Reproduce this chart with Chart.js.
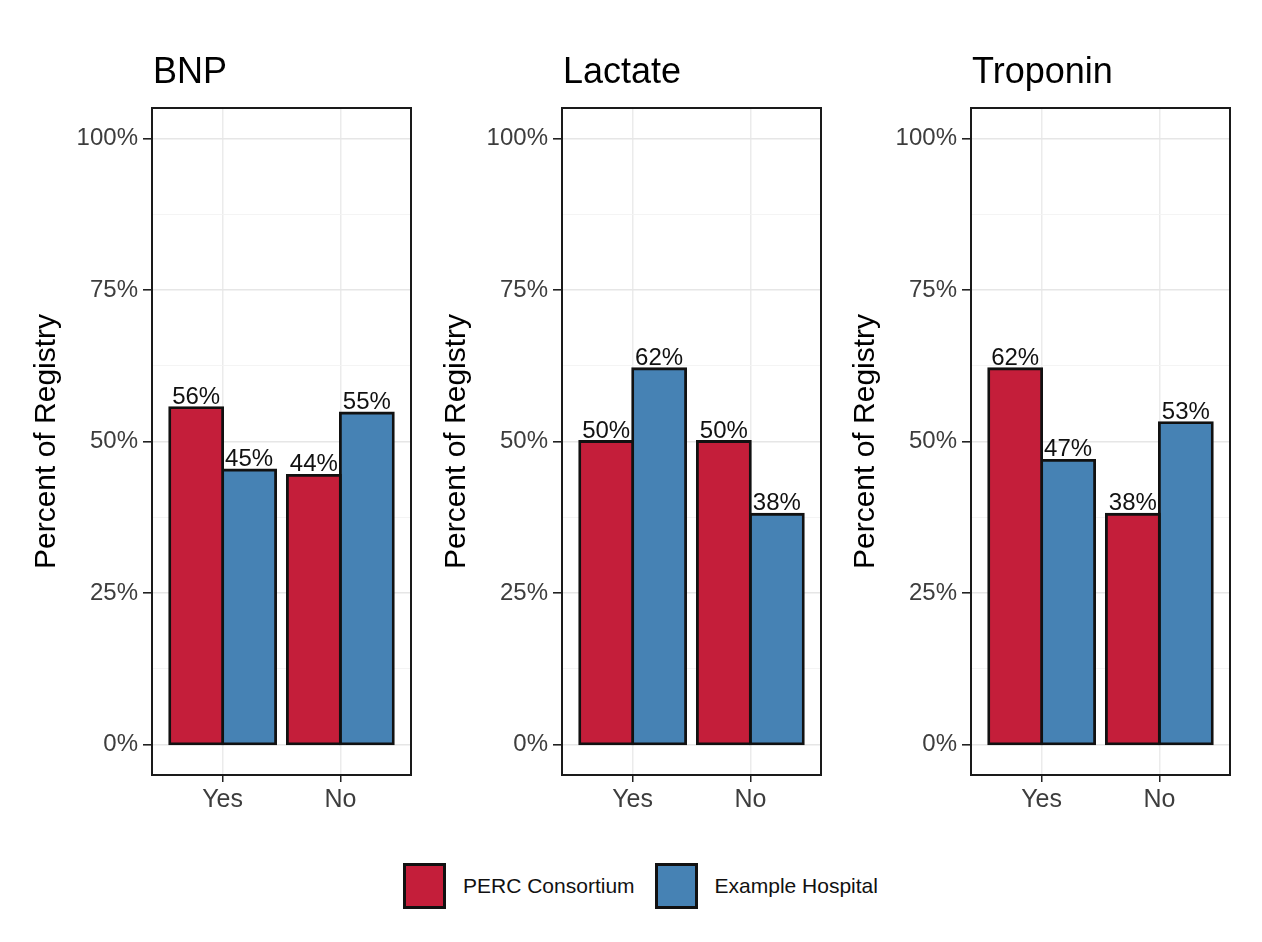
<!DOCTYPE html>
<html>
<head>
<meta charset="utf-8">
<script src="https://cdn.jsdelivr.net/npm/chart.js@4.4.1/dist/chart.umd.min.js"></script>
<style>
  body { margin: 0; background: #fff; width: 1262px; height: 942px; position: relative; overflow: hidden;
         font-family: 'Liberation Sans', Arial, sans-serif; }
  canvas { position: absolute; top: 0; }
  #legend { position: absolute; left: 403px; top: 863px; display: flex; align-items: center; font-size: 21px; color: #111; }
  .sw { width: 37px; height: 40px; border: 3px solid #111; margin-right: 17px; }
  .lab { margin-right: 20px; }
</style>
</head>
<body>
<canvas id="c0" width="415" height="840" style="left:0px"></canvas>
<canvas id="c1" width="415" height="840" style="left:410px"></canvas>
<canvas id="c2" width="415" height="840" style="left:819px"></canvas>
<div id="legend"></div>
<script>
const panelTitles = ['BNP', 'Lactate', 'Troponin'];
const categories = ['Yes', 'No'];
const seriesNames = ['PERC Consortium', 'Example Hospital'];
const seriesColors = ['#C41E3A', '#4682B4'];
// one [Yes, No] pair per panel
const percValues = [[55.6, 44.4], [50.0, 50.0], [62.0, 38.0]];
const hospitalValues = [[45.3, 54.7], [62.0, 38.0], [46.9, 53.1]];
const majorTicks = [0, 25, 50, 75, 100];
const minorTicks = [12.5, 37.5, 62.5, 87.5];

const FONT = "'Liberation Sans', Arial, sans-serif";
Chart.defaults.font.family = FONT;

// panel frame, title and the % labels above bars
const panelDecor = {
  id: 'panelDecor',
  afterDatasetsDraw(chart) {
    const ctx = chart.ctx;
    ctx.save();
    ctx.font = '24px ' + FONT;
    ctx.fillStyle = '#111';
    ctx.textAlign = 'center';
    ctx.textBaseline = 'alphabetic';
    chart.data.datasets.forEach((ds, i) => {
      chart.getDatasetMeta(i).data.forEach((bar, j) => {
        ctx.fillText(Math.round(ds.data[j].y) + '%', bar.x, bar.y - 4);
      });
    });
    ctx.restore();
  },
  afterDraw(chart, args, opts) {
    const { ctx, chartArea: a } = chart;
    ctx.save();
    ctx.strokeStyle = '#1a1a1a';
    ctx.lineWidth = 2;
    ctx.strokeRect(a.left, a.top, a.right - a.left, a.bottom - a.top);
    ctx.font = '36px ' + FONT;
    ctx.fillStyle = '#000';
    ctx.textAlign = 'left';
    ctx.textBaseline = 'alphabetic';
    ctx.fillText(opts.title, a.left + 1, 83);
    ctx.restore();
  }
};

const toPoints = vals => vals.map((v, i) => ({ x: i + 1, y: v }));

panelTitles.forEach((title, p) => {
  new Chart(document.getElementById('c' + p), {
    type: 'bar',
    data: {
      datasets: [
        { label: seriesNames[0], data: toPoints(percValues[p]), backgroundColor: seriesColors[0] },
        { label: seriesNames[1], data: toPoints(hospitalValues[p]), backgroundColor: seriesColors[1] }
      ]
    },
    plugins: [panelDecor],
    options: {
      responsive: false,
      animation: false,
      layout: { padding: { top: 108, right: 4, left: 0, bottom: 0 } },
      datasets: {
        bar: {
          borderColor: '#111',
          borderWidth: 2.8,
          borderSkipped: false,
          inflateAmount: 1.4,
          categoryPercentage: 0.9,
          barPercentage: 1
        }
      },
      plugins: {
        legend: { display: false },
        tooltip: { enabled: false },
        panelDecor: { title: title }
      },
      scales: {
        x: {
          type: 'linear',
          min: 0.4,
          max: 2.6,
          offset: false,
          afterBuildTicks: s => { s.ticks = categories.map((c, i) => ({ value: i + 1 })); },
          afterFit: s => { s.height = 65; },
          grid: { offset: false, color: '#EBEBEB', lineWidth: 1.5, tickColor: '#222', tickLength: 7 },
          border: { display: false },
          ticks: {
            autoSkip: false,
            maxRotation: 0,
            padding: 3,
            color: '#3d3d3d',
            font: { size: 25 },
            callback: (v, i) => categories[i]
          }
        },
        y: {
          min: -5,
          max: 105,
          afterBuildTicks: s => {
            s.ticks = majorTicks.concat(minorTicks).sort((a, b) => a - b).map(v => ({ value: v }));
          },
          afterFit: s => { s.width = 152; },
          grid: {
            color: c => majorTicks.includes(c.tick.value) ? '#E6E6E6' : '#F3F3F3',
            lineWidth: c => majorTicks.includes(c.tick.value) ? 1.6 : 0.9,
            tickColor: c => majorTicks.includes(c.tick.value) ? '#222' : 'rgba(0,0,0,0)',
            tickLength: 9
          },
          border: { display: false },
          ticks: {
            autoSkip: false,
            padding: 5,
            color: '#3d3d3d',
            font: { size: 24 },
            callback: v => majorTicks.includes(v) ? v + '%' : ''
          },
          title: {
            display: true,
            text: 'Percent of Registry',
            color: '#000',
            font: { size: 30 },
            padding: { top: 29, bottom: 0 }
          }
        }
      }
    }
  });
});

// legend built from the series arrays
const legend = document.getElementById('legend');
seriesNames.forEach((name, i) => {
  const sw = document.createElement('div');
  sw.className = 'sw';
  sw.style.background = seriesColors[i];
  const lab = document.createElement('div');
  lab.className = 'lab';
  lab.textContent = name;
  legend.appendChild(sw);
  legend.appendChild(lab);
});
</script>
</body>
</html>
